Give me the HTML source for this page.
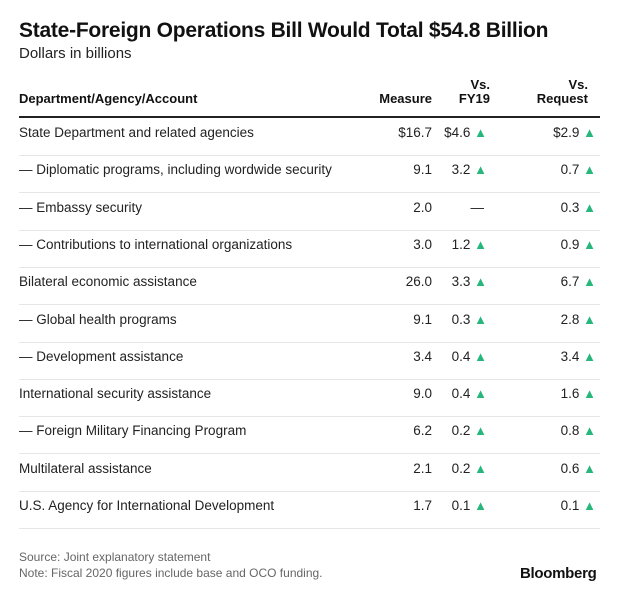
<!DOCTYPE html>
<html><head><meta charset="utf-8"><style>
body{margin:0;background:#fff;font-family:"Liberation Sans",sans-serif;color:#111}
#wrap{position:relative;width:620px;height:600px;overflow:hidden}
.a{position:absolute;white-space:nowrap}
.title{left:19px;top:19px;font-size:21px;font-weight:bold;letter-spacing:-0.25px}
.sub{left:19px;top:45px;font-size:15px;color:#222}
.h{font-size:13px;font-weight:bold;text-align:right;line-height:14px}
.row{position:absolute;left:19px;width:581px;height:37px;border-bottom:1px solid #e6e6e6;font-size:13.5px;color:#222}
.row span{position:absolute;top:7px;line-height:16px;height:16px}
.row span.tri{position:static;color:#27b67c;font-size:13px;line-height:16px;display:inline-block;vertical-align:top}
.foot{left:19px;font-size:12px;color:#666}
</style></head><body>
<div id="wrap">
<div class="a title">State-Foreign Operations Bill Would Total $54.8 Billion</div>
<div class="a sub">Dollars in billions</div>
<div class="a h" style="left:19px;top:92px;text-align:left">Department/Agency/Account</div>
<div class="a h" style="right:188px;top:92px">Measure</div>
<div class="a h" style="right:130px;top:78px">Vs.<br>FY19</div>
<div class="a h" style="right:32px;top:78px">Vs.<br>Request</div>
<div class="a" style="left:19px;top:116px;width:581px;height:2px;background:#222"></div>
<div id="rows"></div>
<div class="a foot" style="top:550px">Source: Joint explanatory statement</div>
<div class="a foot" style="top:566px">Note: Fiscal 2020 figures include base and OCO funding.</div>
<div class="a" style="left:520px;top:565px;font-size:15px;font-weight:bold;letter-spacing:-0.3px">Bloomberg</div>
</div>
<script>
const labels=["State Department and related agencies","— Diplomatic programs, including wordwide security","— Embassy security","— Contributions to international organizations","Bilateral economic assistance","— Global health programs","— Development assistance","International security assistance","— Foreign Military Financing Program","Multilateral assistance","U.S. Agency for International Development"];
const measure=["$16.7","9.1","2.0","3.0","26.0","9.1","3.4","9.0","6.2","2.1","1.7"];
const vsFY19=["$4.6","3.2","—","1.2","3.3","0.3","0.4","0.4","0.2","0.2","0.1"];
const vsReq=["$2.9","0.7","0.3","0.9","6.7","2.8","3.4","1.6","0.8","0.6","0.1"];
const rows=document.getElementById('rows');
labels.forEach((l,i)=>{
 const r=document.createElement('div');
 r.className='row';
 
 
 r.style.top=(118+i*37.3)+'px';
 const a=document.createElement('span');a.style.left='0';a.textContent=l;
 
 
 const m=document.createElement('span');m.style.right='168px';m.textContent=measure[i];
 
 
 const f=document.createElement('span');f.style.right='113px';
 
 
 if(vsFY19[i]==='—'){f.style.right='116px';f.textContent='—';}
 else f.innerHTML=vsFY19[i]+' <span class="tri">▲</span>';
 const q=document.createElement('span');q.style.right='4px';
 
 
 q.innerHTML=vsReq[i]+' <span class="tri">▲</span>';
 r.append(a,m,f,q);rows.appendChild(r);
});
</script>
</body></html>
